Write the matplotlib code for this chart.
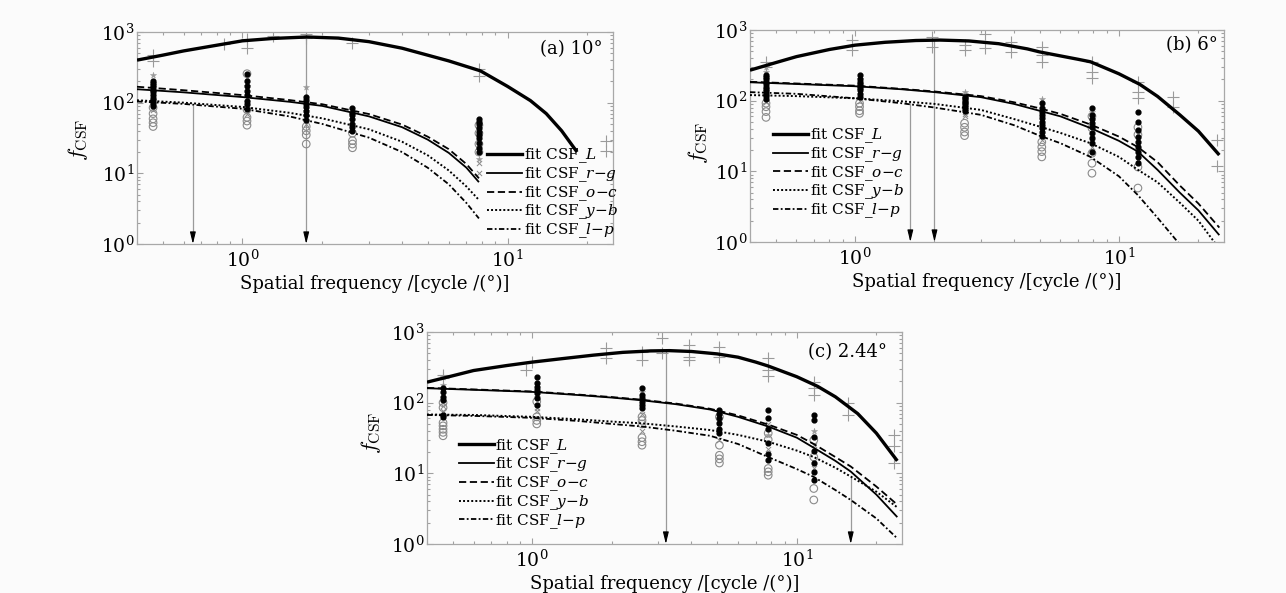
import matplotlib
matplotlib.use('Agg')
import matplotlib.pyplot as plt
from matplotlib.lines import Line2D
from matplotlib.ticker import LogLocator, NullFormatter

plt.rcParams['font.family'] = ['DejaVu Serif']
plt.rcParams['mathtext.fontset'] = 'dejavuserif'

W, H = 1286, 593

# ---------------- panel (a) 10 deg ----------------
a_fit_L_f = [0.4, 0.5, 0.6, 0.8, 1.0, 1.3, 1.75, 2.3, 3.0, 4.0, 5.0, 6.0, 7.9, 10.0, 12.2, 14.0, 16.0, 18.3]
a_fit_L_v = [400, 470, 540, 650, 750, 810, 850, 820, 730, 590, 470, 390, 282, 170, 107, 70, 40, 20]
a_chrom_f = [0.4, 0.6, 1.0, 1.5, 2.0, 3.0, 4.0, 5.0, 6.0, 7.0, 7.8]
a_rg_v = [155, 140, 120, 103, 90, 64, 45, 30, 19.5, 12, 7.5]
a_oc_v = [168, 150, 128, 109, 95, 69, 49, 33, 22, 13.5, 8.5]
a_yb_v = [108, 100, 87, 72, 60, 42, 28, 18, 11, 6.5, 4.2]
a_lp_v = [104, 96, 82, 64, 50, 32, 20, 12, 7, 3.8, 2.3]

a_plus_f = [0.46, 0.46, 0.85, 1.04, 1.04, 1.3, 1.74, 1.74, 2.6, 7.8, 7.8, 23.5, 23.5]
a_plus_v = [470, 390, 680, 790, 600, 870, 930, 820, 700, 300, 240, 29, 21]
a_cols = [0.46, 1.04, 1.74, 2.6, 7.8]
a_dot_v = [[205, 190, 178, 165, 152, 140, 128, 118, 108, 98, 91],
           [257, 200, 170, 148, 130, 107, 95, 82],
           [121, 110, 97, 88, 77, 66, 56],
           [85, 72, 66, 58, 50, 45, 40],
           [59, 54, 50, 44, 38, 35, 32, 27, 23, 20]]
a_circ_v = [[46, 52, 59, 70, 85],
            [257, 48, 55, 62, 80],
            [26, 35, 40, 46],
            [23, 26, 29, 37],
            [48, 37, 26, 20]]
a_cross_v = [[80, 95, 120], [100, 70], [60, 50], [45, 55], [10, 14]]
a_star_v = [[250, 140], [170, 230], [165, 75], [70], [16, 45]]
a_arrow_f = [0.65, 1.74]
a_arrow_v = [91, 850]

# ---------------- panel (b) 6 deg ----------------
b_fit_L_f = [0.4, 0.5, 0.6, 0.8, 1.0, 1.3, 1.7, 2.1, 2.7, 3.5, 4.5, 5.0, 6.0, 7.0, 7.8, 10, 12, 14, 17, 20, 24]
b_fit_L_v = [270, 345, 420, 530, 610, 670, 710, 720, 700, 640, 540, 490, 430, 385, 355, 240, 170, 115, 63, 37, 17]
b_chrom_f = [0.4, 0.6, 1.0, 1.5, 2.0, 3.0, 4.0, 5.0, 6.0, 7.8, 10, 11.8, 14, 17, 20, 24]
b_rg_v = [182, 172, 160, 145, 132, 112, 90, 72, 60, 41, 27, 19, 10.5, 5, 2.8, 1.25]
b_oc_v = [185, 175, 163, 147, 135, 116, 95, 78, 65, 46, 31, 22, 13.5, 6.3, 3.5, 1.6]
b_yb_v = [120, 116, 108, 98, 90, 74, 55, 43, 35, 25, 16, 10.5, 7, 3.6, 2.0, 0.8]
b_lp_f = [0.4, 0.6, 1.0, 1.5, 2.0, 3.0, 4.0, 5.0, 6.0, 7.8, 10, 11.8, 14, 16.7, 18]
b_lp_v = [132, 125, 108, 92, 80, 63, 45, 32, 25, 16, 8.5, 4.6, 2.2, 1.0, 0.7]

b_plus_f = [0.46, 0.46, 0.97, 0.97, 1.96, 1.96, 2.6, 2.6, 3.1, 3.1, 3.9, 3.9, 5.1, 5.1, 5.1,
            7.9, 7.9, 7.9, 11.8, 11.8, 11.8, 16, 16, 23.5, 23.5]
b_plus_v = [355, 300, 720, 520, 800, 580, 620, 520, 890, 560, 680, 490, 580, 440, 355,
            355, 255, 210, 185, 134, 109, 114, 82, 28, 12]
b_cols = [0.46, 1.04, 2.6, 5.1, 7.9, 11.8]
b_dot_v = [[230, 215, 200, 185, 170, 158, 145, 135, 125, 115, 105],
           [230, 200, 185, 170, 160, 150, 140, 125, 113],
           [113, 108, 101, 96, 92, 87, 82, 77, 72],
           [92, 78, 70, 63, 56, 50, 45, 41, 36, 32],
           [78, 63, 55, 48, 42, 35, 30, 25, 19],
           [69, 50, 38, 31, 26, 22, 19, 16, 13]]
b_circ_v = [[92, 82, 70, 58],
            [92, 82, 72, 66],
            [48, 42, 36, 32],
            [26, 22, 19, 16],
            [60, 41, 18, 13, 9.4],
            [42, 33, 11.5, 5.8]]
b_cross_v = [[95, 110], [100, 120], [60, 65], [28, 45], [22, 30], [15, 25]]
b_star_v = [[257, 300], [200], [134, 124], [105], [70], [35]]
b_arrow_f = [1.62, 2.0]
b_arrow_v = [97, 720]

# ---------------- panel (c) 2.44 deg ----------------
c_fit_L_f = [0.4, 0.5, 0.6, 0.8, 1.0, 1.3, 1.7, 2.2, 2.8, 3.3, 4.0, 5.0, 6.0, 7.0, 7.8, 10, 12, 14, 17, 20, 24]
c_fit_L_v = [195, 240, 285, 335, 375, 420, 470, 515, 540, 545, 530, 490, 440, 375, 330, 233, 170, 121, 70, 37, 15]
c_chrom_f = [0.4, 0.6, 1.0, 1.5, 2.0, 2.6, 3.5, 4.7, 6.0, 7.8, 10, 11.6, 14, 16, 20, 24]
c_rg_v = [160, 152, 142, 128, 118, 108, 95, 80, 63, 46, 32, 23, 15, 10.6, 5, 2.4]
c_oc_v = [162, 154, 144, 130, 120, 110, 97, 82, 66, 49, 35, 26, 17, 12.5, 6.5, 3.6]
c_yb_v = [68, 67, 63, 58, 54, 51, 46, 41, 35, 28, 21, 17, 12, 9, 5.5, 3.3]
c_lp_v = [67, 65, 61, 55, 50, 46, 40, 34, 26, 17, 11.5, 8.9, 5.8, 4.2, 2.3, 1.2]

c_plus_f = [0.46, 0.46, 0.95, 1.0, 1.9, 1.9, 2.6, 2.6, 3.1, 3.1, 3.9, 3.9, 3.9, 5.1, 5.1,
            7.8, 7.8, 7.8, 11.6, 11.6, 11.6, 15.6, 15.6, 23.4, 23.4, 23.4]
c_plus_v = [245, 220, 290, 380, 590, 425, 525, 400, 810, 500, 650, 445, 400, 620, 445,
            425, 290, 240, 198, 159, 128, 98, 67, 35, 24, 14]
c_cols = [0.46, 1.04, 2.6, 5.1, 7.8, 11.6]
c_dot_v = [[160, 140, 120, 110, 68, 62],
           [230, 187, 167, 151, 135, 118, 92],
           [160, 127, 115, 103, 92, 84],
           [79, 70, 60, 51, 43, 37],
           [79, 60, 43, 26.5, 19, 15.4],
           [67, 56, 33, 21, 13.8, 10.5, 8]]
c_circ_v = [[100, 85, 52, 47, 42, 38, 34],
            [104, 63, 56, 50],
            [63, 56, 50, 32, 28, 25],
            [63, 25, 18, 16, 14],
            [37, 30, 11.7, 10.5, 9.4],
            [29.5, 17, 6.1, 4.2]]
c_cross_v = [[75, 90], [75, 85], [70, 40], [30, 45], [22, 50], [12, 25]]
c_star_v = [[180, 230], [120], [140], [55], [35], [40]]
c_arrow_f = [3.2, 16.0]
c_arrow_v = [545, 9.0]

legend_labels = ['fit CSF_$L$', 'fit CSF_$r{-}g$', 'fit CSF_$o{-}c$',
                 'fit CSF_$y{-}b$', 'fit CSF_$l{-}p$']
panel_titles = ['(a) 10°', '(b) 6°', '(c) 2.44°']

# ---------------- styles ----------------
STY = [dict(color='black', lw=2.4, ls='-'),
       dict(color='black', lw=1.3, ls='-'),
       dict(color='black', lw=1.3, ls=(0, (4, 2))),
       dict(color='black', lw=1.4, ls=(0, (1, 1.1))),
       dict(color='black', lw=1.3, ls=(0, (3, 1.3, 1, 1.3)))]
GRAY = '#8a8a8a'
BG = '#fbfbfb'

fig = plt.figure(figsize=(W / 100, H / 100), dpi=100, facecolor=BG)


def box(l, t, r, b):
    return [l / W, 1 - b / H, (r - l) / W, (b - t) / H]


def cols_to_xy(cols, vals):
    xs, ys = [], []
    for c, vs in zip(cols, vals):
        xs += [c] * len(vs)
        ys += list(vs)
    return xs, ys


def panel(rect, fits, plus, cols, dots, circs, crosses, stars, arrows,
          title, title_xy, leg_xy, ylab_px):
    ax = fig.add_axes(rect)
    ax.set_facecolor(BG)
    ax.set_xscale('log')
    ax.set_yscale('log')
    ax.set_xlim(0.4, 25)
    ax.set_ylim(1, 1000)

    # data points
    x, y = cols_to_xy(cols, circs)
    ax.scatter(x, y, s=30, facecolors='none', edgecolors=GRAY, linewidths=0.8, zorder=2)
    x, y = cols_to_xy(cols, crosses)
    ax.scatter(x, y, s=14, marker='x', color=GRAY, linewidths=0.7, zorder=2)
    x, y = cols_to_xy(cols, stars)
    ax.scatter(x, y, s=22, marker='*', color='#999999', linewidths=0.3, zorder=2)
    x, y = cols_to_xy(cols, dots)
    ax.scatter(x, y, s=12, color='black', zorder=3)
    ax.scatter(plus[0], plus[1], s=70, marker='+', color='#9a9a9a', linewidths=0.8, zorder=2)

    # arrows
    for fx, fv in zip(*arrows):
        ax.plot([fx, fx], [fv, 1.3], color='#9a9a9a', lw=0.9, zorder=1)
        ax.annotate('', xy=(fx, 1.0), xytext=(fx, 1.36),
                    arrowprops=dict(arrowstyle='-|>,head_length=0.7,head_width=0.17',
                                    color='black', lw=0.8, shrinkA=0, shrinkB=0),
                    zorder=4)

    # fitted curves
    for (fx, fv), st in zip(fits, STY):
        ax.plot(fx, fv, zorder=5, solid_capstyle='butt', **st)

    # axes styling
    for sp in ax.spines.values():
        sp.set_color('#a8a8a8')
        sp.set_linewidth(0.9)
    ax.xaxis.set_major_locator(LogLocator(base=10, numticks=10))
    ax.xaxis.set_minor_locator(LogLocator(base=10, subs=range(2, 10), numticks=20))
    ax.yaxis.set_major_locator(LogLocator(base=10, numticks=10))
    ax.yaxis.set_minor_locator(LogLocator(base=10, subs=range(2, 10), numticks=20))
    ax.xaxis.set_minor_formatter(NullFormatter())
    ax.yaxis.set_minor_formatter(NullFormatter())
    ax.tick_params(which='both', direction='in', top=True, right=True, color='#a0a0a0',
                   labelsize=13.5, width=0.8)
    ax.tick_params(which='major', length=4.5)
    ax.tick_params(which='minor', length=2.5)
    ax.tick_params(axis='y', pad=2)
    ax.tick_params(axis='x', pad=4)
    ax.set_xlabel('Spatial frequency /[cycle /(°)]', fontsize=13, labelpad=3)

    ax.text(title_xy[0], title_xy[1], title, transform=ax.transAxes,
            ha='right', va='center', fontsize=13)

    handles = [Line2D([0], [0], **st) for st in STY]
    ax.legend(handles, legend_labels, loc='upper left', bbox_to_anchor=leg_xy,
              frameon=False, fontsize=11, handlelength=2.3, handletextpad=0.1,
              labelspacing=0.0, borderpad=0, borderaxespad=0).set_zorder(6)

    fig.text(ylab_px[0] / W, 1 - ylab_px[1] / H, r'$f_{\mathrm{CSF}}$', rotation=90,
             ha='center', va='center', fontsize=16, math_fontfamily='cm')
    return ax


panel(box(137, 32, 613, 244),
      [(a_fit_L_f, a_fit_L_v), (a_chrom_f, a_rg_v), (a_chrom_f, a_oc_v),
       (a_chrom_f, a_yb_v), (a_chrom_f, a_lp_v)],
      (a_plus_f, a_plus_v), a_cols, a_dot_v, a_circ_v, a_cross_v, a_star_v,
      (a_arrow_f, a_arrow_v), panel_titles[0], (0.979, 0.92), (0.735, 0.46), (78, 140))

panel(box(750, 30, 1224, 242),
      [(b_fit_L_f, b_fit_L_v), (b_chrom_f, b_rg_v), (b_chrom_f, b_oc_v),
       (b_chrom_f, b_yb_v), (b_lp_f, b_lp_v)],
      (b_plus_f, b_plus_v), b_cols, b_dot_v, b_circ_v, b_cross_v, b_star_v,
      (b_arrow_f, b_arrow_v), panel_titles[1], (0.987, 0.93), (0.0485, 0.545), (698, 143))

panel(box(427, 332, 902, 544),
      [(c_fit_L_f, c_fit_L_v), (c_chrom_f, c_rg_v), (c_chrom_f, c_oc_v),
       (c_chrom_f, c_yb_v), (c_chrom_f, c_lp_v)],
      (c_plus_f, c_plus_v), c_cols, c_dot_v, c_circ_v, c_cross_v, c_star_v,
      (c_arrow_f, c_arrow_v), panel_titles[2], (0.968, 0.906), (0.067, 0.505), (371, 433))

fig.savefig('out.png', dpi=100, facecolor=BG)
